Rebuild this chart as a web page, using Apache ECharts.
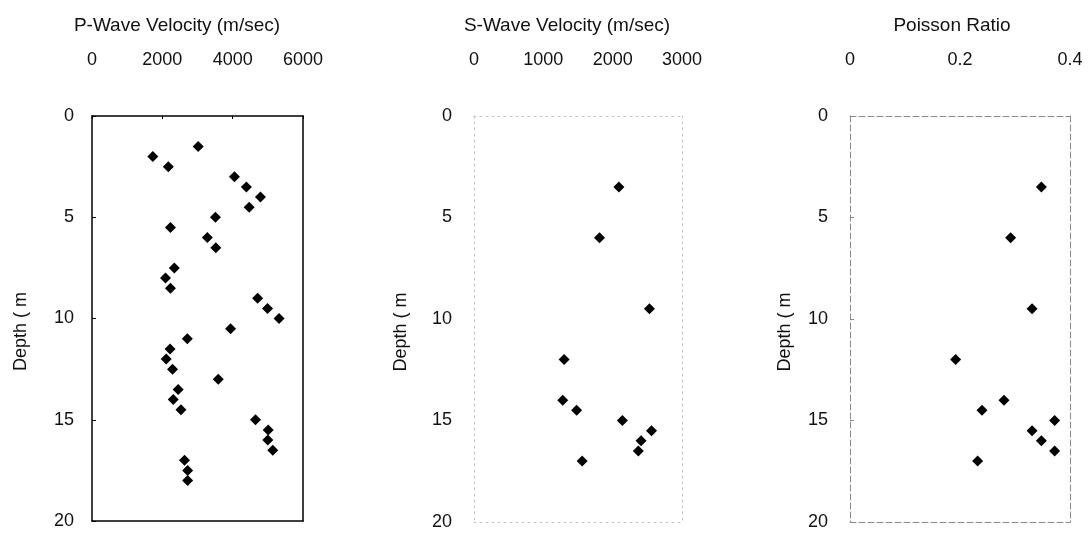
<!DOCTYPE html>
<html>
<head>
<meta charset="utf-8">
<script src="https://cdn.jsdelivr.net/npm/echarts@6/dist/echarts.min.js"></script>
<style>html,body{margin:0;padding:0;background:#fff}#c{width:1092px;height:534px}</style>
</head>
<body>
<div id="c"></div>
<script>
// ---- data ----
var titles = ['P-Wave Velocity (m/sec)', 'S-Wave Velocity (m/sec)', 'Poisson Ratio'];
var depthName = 'Depth ( m';
var pDepth = [1.5,2,2.5,3,3.5,4,4.5,5,5.5,6,6.5,7.5,8,8.5,9,9.5,10,10.5,11,11.5,12,12.5,13,13.5,14,14.5,15,15.5,16,16.5,17,17.5,18];
var pVel   = [3020,1730,2170,4050,4390,4790,4470,3510,2230,3280,3520,2340,2090,2230,4710,4990,5320,3940,2710,2220,2110,2290,3590,2450,2310,2530,4650,5010,5000,5140,2630,2720,2720];
var sDepth = [3.5,6,9.5,12,14,14.5,15,15.5,16,16.5,17];
var sVel   = [2090,1810,2530,1300,1280,1480,2140,2560,2410,2370,1560];
var nuDepth = [3.5,6,9.5,12,14,14.5,15,15.5,16,16.5,17];
var nu      = [0.348,0.292,0.331,0.192,0.280,0.240,0.372,0.331,0.348,0.372,0.232];
var xMax = [6000, 3000, 0.4];
var xInterval = [2000, 1000, 0.2];
var depthMax = 20, depthInterval = 5;

// ---- layout ----
var FONT = 'Liberation Sans';
var grids = [
  {left: 92, top: 116, width: 211, height: 405},
  {left: 474, top: 116, width: 208, height: 406},
  {left: 850, top: 116, width: 220, height: 406}
];
var frame = [
  {color: '#000', width: 1.5, type: 'solid'},
  {color: '#c4c4c4', width: 1, type: [2, 4]},
  {color: '#8a8a8a', width: 1, type: [6, 3]}
];
var ylabMargin = [18, 22, 22];
var nameGaps = [62, 64, 56];
var centers = [172, 562, 947];

function pairs(ys, xs) { return xs.map(function (x, i) { return [x, ys[i]]; }); }
var seriesData = [pairs(pDepth, pVel), pairs(sDepth, sVel), pairs(nuDepth, nu)];

var option = {
  animation: false,
  textStyle: {fontFamily: FONT},
  title: [], grid: [], xAxis: [], yAxis: [], series: []
};
for (var i = 0; i < 3; i++) {
  option.grid.push(grids[i]);
  option.title.push({text: titles[i], left: centers[i], top: 11, textAlign: 'center',
    textStyle: {fontFamily: FONT, fontSize: 19, fontWeight: 'normal', color: '#111'}});
  var ls = {color: frame[i].color, width: frame[i].width, type: frame[i].type};
  option.xAxis.push({type: 'value', gridIndex: i, position: 'top', min: 0, max: xMax[i], interval: xInterval[i],
    axisLine: {show: true, onZero: false, lineStyle: ls},
    axisTick: {show: i === 0, inside: true, length: 3, lineStyle: {color: '#000'}},
    axisLabel: {show: true, margin: 47, fontFamily: FONT, fontSize: 18, color: '#111',
      formatter: function (v) { return String(v); }},
    splitLine: {show: false}});
  option.xAxis.push({type: 'value', gridIndex: i, position: 'bottom', min: 0, max: xMax[i],
    axisLine: {show: true, onZero: false, lineStyle: ls},
    axisTick: {show: false}, axisLabel: {show: false}, splitLine: {show: false}});
  option.yAxis.push({type: 'value', gridIndex: i, position: 'left', inverse: true, min: 0, max: depthMax, interval: depthInterval,
    name: depthName, nameLocation: 'middle', nameGap: nameGaps[i], nameRotate: 90,
    nameTextStyle: {fontFamily: FONT, fontSize: 18, color: '#111', padding: [0, 26, 0, 0]},
    axisLine: {show: true, onZero: false, lineStyle: ls},
    axisTick: {show: i !== 1, inside: true, length: 4, lineStyle: {color: i === 0 ? '#000' : '#888'}},
    axisLabel: {show: true, margin: ylabMargin[i], fontFamily: FONT, fontSize: 18, color: '#111'},
    splitLine: {show: false}});
  option.yAxis.push({type: 'value', gridIndex: i, position: 'right', inverse: true, min: 0, max: depthMax,
    axisLine: {show: true, onZero: false, lineStyle: ls},
    axisTick: {show: false}, axisLabel: {show: false}, splitLine: {show: false}});
  option.series.push({type: 'scatter', xAxisIndex: 2 * i, yAxisIndex: 2 * i, data: seriesData[i],
    symbol: 'diamond', symbolSize: 11, itemStyle: {color: '#000', opacity: 1}});
}
var chart = echarts.init(document.getElementById('c'), null, {renderer: 'canvas'});
chart.setOption(option);
</script>
</body>
</html>
